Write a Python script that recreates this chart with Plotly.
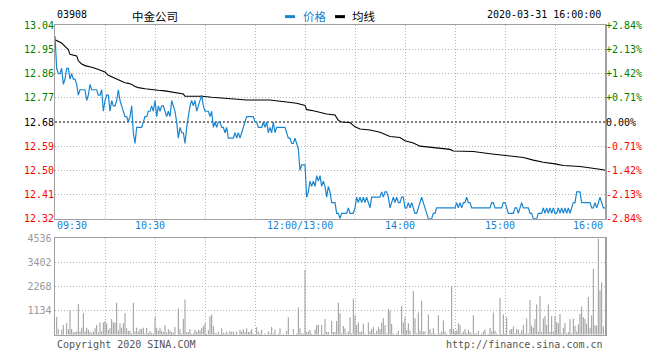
import plotly.graph_objects as go

# ---------------- data ----------------
stock_code = "03908"
stock_name = "中金公司"
timestamp = "2020-03-31 16:00:00"
prev_close = 12.68
series_names = ["价格", "均线"]

# minute-by-minute price, 09:30 .. 12:00 then 13:00 .. 16:00 (331 points)
price = [
    13.00, 12.88, 12.86, 12.86, 12.88, 12.82, 12.84, 12.88, 12.88, 12.84,  # 0
    12.86, 12.84, 12.84, 12.82, 12.78, 12.80, 12.80, 12.80, 12.80, 12.76,  # 10
    12.78, 12.82, 12.80, 12.80, 12.80, 12.80, 12.78, 12.78, 12.80, 12.72,  # 20
    12.76, 12.78, 12.78, 12.72, 12.76, 12.74, 12.74, 12.76, 12.80, 12.76,  # 30
    12.74, 12.72, 12.70, 12.70, 12.68, 12.70, 12.74, 12.64, 12.60, 12.66,  # 40
    12.66, 12.66, 12.66, 12.68, 12.70, 12.70, 12.72, 12.72, 12.74, 12.72,  # 50
    12.76, 12.70, 12.74, 12.72, 12.74, 12.74, 12.72, 12.70, 12.72, 12.70,  # 60
    12.76, 12.74, 12.72, 12.68, 12.62, 12.66, 12.64, 12.64, 12.60, 12.66,  # 70
    12.70, 12.74, 12.76, 12.74, 12.76, 12.72, 12.74, 12.76, 12.78, 12.74,  # 80
    12.72, 12.72, 12.72, 12.70, 12.72, 12.66, 12.68, 12.66, 12.68, 12.68,  # 90
    12.66, 12.66, 12.64, 12.66, 12.62, 12.62, 12.62, 12.62, 12.64, 12.62,  # 100
    12.64, 12.62, 12.64, 12.66, 12.68, 12.70, 12.70, 12.70, 12.70, 12.70,  # 110
    12.68, 12.68, 12.66, 12.66, 12.66, 12.68, 12.66, 12.68, 12.64, 12.66,  # 120
    12.64, 12.68, 12.64, 12.66, 12.66, 12.66, 12.66, 12.66, 12.66, 12.64,  # 130
    12.62, 12.62, 12.60, 12.60, 12.62, 12.60, 12.58, 12.50, 12.52, 12.52,  # 140
    12.52, 12.40, 12.42, 12.46, 12.44, 12.46, 12.44, 12.48, 12.46, 12.48,  # 150
    12.44, 12.46, 12.44, 12.40, 12.44, 12.42, 12.38, 12.38, 12.38, 12.34,  # 160
    12.34, 12.32, 12.34, 12.34, 12.34, 12.34, 12.36, 12.34, 12.34, 12.34,  # 170
    12.36, 12.40, 12.38, 12.40, 12.38, 12.40, 12.38, 12.40, 12.38, 12.36,  # 180
    12.40, 12.40, 12.40, 12.40, 12.40, 12.40, 12.42, 12.40, 12.42, 12.42,  # 190
    12.40, 12.36, 12.38, 12.40, 12.38, 12.40, 12.38, 12.38, 12.40, 12.40,  # 200
    12.36, 12.36, 12.38, 12.36, 12.38, 12.36, 12.34, 12.34, 12.36, 12.38,  # 210
    12.40, 12.38, 12.36, 12.34, 12.32, 12.32, 12.32, 12.34, 12.34, 12.36,  # 220
    12.36, 12.36, 12.36, 12.36, 12.36, 12.36, 12.36, 12.36, 12.36, 12.36,  # 230
    12.36, 12.38, 12.36, 12.38, 12.36, 12.38, 12.38, 12.40, 12.38, 12.38,  # 240
    12.36, 12.36, 12.36, 12.36, 12.36, 12.36, 12.36, 12.36, 12.36, 12.36,  # 250
    12.36, 12.36, 12.38, 12.38, 12.36, 12.36, 12.36, 12.36, 12.36, 12.38,  # 260
    12.38, 12.36, 12.34, 12.34, 12.34, 12.34, 12.36, 12.36, 12.34, 12.36,  # 270
    12.38, 12.36, 12.36, 12.36, 12.36, 12.34, 12.34, 12.32, 12.32, 12.32,  # 280
    12.34, 12.34, 12.34, 12.36, 12.34, 12.36, 12.34, 12.36, 12.34, 12.36,  # 290
    12.34, 12.34, 12.36, 12.34, 12.36, 12.34, 12.36, 12.34, 12.36, 12.34,  # 300
    12.36, 12.38, 12.38, 12.42, 12.42, 12.42, 12.38, 12.38, 12.38, 12.38,  # 310
    12.38, 12.38, 12.36, 12.36, 12.38, 12.36, 12.38, 12.40, 12.38, 12.36, 12.36,  # 320
]

# average-price line, read at its turning points (minute index, price)
avg_minute = [0, 2, 4, 6, 8, 9, 11, 13, 14, 16, 18, 20, 22, 24, 26, 28, 30, 32, 34, 36,
              38, 40, 42, 44, 46, 48, 50, 54, 58, 62, 66, 70, 74, 77, 78, 88, 94, 99, 107, 115,
              129, 139, 145, 150, 151, 155, 159, 163, 168, 170, 172, 177, 180, 183, 189, 195, 201, 207, 210, 215,
              219, 225, 230, 231, 237, 239, 251, 261, 271, 281, 287, 293, 300, 305, 315, 321, 325, 329, 330]
avg_price = [12.986, 12.980, 12.974, 12.962, 12.950, 12.932, 12.928, 12.926, 12.908, 12.896,
             12.890, 12.888, 12.884, 12.880, 12.876, 12.872, 12.866, 12.854, 12.848, 12.842,
             12.836, 12.832, 12.826, 12.824, 12.820, 12.812, 12.808, 12.804, 12.800, 12.798,
             12.796, 12.792, 12.788, 12.784, 12.776, 12.776, 12.772, 12.770, 12.766, 12.762,
             12.762, 12.754, 12.750, 12.742, 12.726, 12.722, 12.716, 12.710, 12.706, 12.686,
             12.680, 12.678, 12.662, 12.654, 12.650, 12.642, 12.626, 12.622, 12.610, 12.602,
             12.590, 12.586, 12.584, 12.582, 12.578, 12.572, 12.570, 12.562, 12.554, 12.548,
             12.538, 12.530, 12.524, 12.518, 12.514, 12.510, 12.506, 12.502, 12.500]

# minute volume (331 bars)
volume = [
    0, 830, 260, 0, 230, 450, 0, 530, 260, 1130,
    270, 110, 120, 150, 1440, 150, 330, 1000, 150, 330,
    230, 120, 80, 150, 300, 450, 100, 570, 150, 570,
    640, 540, 230, 300, 730, 570, 570, 1500, 200, 540,
    330, 540, 1000, 300, 180, 180, 60, 1500, 150, 330,
    150, 270, 270, 320, 60, 320, 90, 180, 80, 60,
    820, 320, 180, 330, 180, 120, 450, 100, 260, 180,
    120, 90, 360, 0, 1230, 260, 60, 730, 1650, 100,
    120, 270, 45, 60, 230, 120, 230, 180, 300, 410,
    530, 30, 210, 860, 950, 410, 90, 60, 150, 30,
    300, 90, 60, 150, 60, 180, 120, 150, 60, 150,
    0, 230, 150, 260, 120, 300, 120, 150, 260, 60,
    0, 350, 150, 60, 230, 0, 60, 0, 150, 60,
    360, 60, 230, 0, 60, 300, 0, 60, 0, 180,
    820, 0, 0, 270, 0, 60, 1270, 300, 60, 60,
    3040, 120, 150, 230, 60, 0, 230, 450, 450, 0,
    450, 45, 730, 120, 120, 0, 640, 120, 120, 640,
    1500, 1000, 60, 410, 290, 60, 150, 820, 60, 1680,
    910, 450, 570, 120, 150, 510, 60, 0, 570, 150,
    270, 360, 60, 180, 360, 270, 570, 770, 450, 60,
    1220, 1120, 500, 60, 0, 60, 180, 0, 1360, 570,
    820, 230, 540, 180, 0, 2040, 770, 60, 1040, 180,
    1590, 150, 150, 0, 950, 260, 60, 300, 60, 0,
    910, 60, 150, 670, 150, 60, 0, 270, 2270, 270,
    150, 200, 540, 450, 60, 150, 270, 60, 230, 120,
    60, 910, 60, 60, 180, 0, 60, 150, 240, 0,
    30, 320, 150, 1040, 180, 60, 0, 1720, 30, 950,
    60, 820, 0, 230, 270, 380, 60, 270, 230, 60,
    210, 450, 60, 760, 60, 1630, 420, 330, 730, 1410,
    150, 1810, 120, 760, 880, 450, 1420, 120, 880, 150,
    880, 600, 540, 970, 60, 330, 540, 60, 120, 730,
    60, 760, 420, 150, 480, 970, 1320, 820, 730, 510,
    1770, 320, 910, 3080, 450, 420, 4500, 2090, 2450, 380,
    0,
]
minutes = list(range(len(price)))

# axes / tick labels
price_ticks = [12.32, 12.41, 12.50, 12.59, 12.68, 12.77, 12.86, 12.95, 13.04]
price_tick_labels = ["12.32", "12.41", "12.50", "12.59", "12.68", "12.77", "12.86", "12.95", "13.04"]
pct_tick_labels = ["-2.84%", "-2.13%", "-1.42%", "-0.71%", "0.00%", "+0.71%", "+1.42%", "+2.13%", "+2.84%"]
vol_ticks = [1134, 2268, 3402, 4536]
vol_tick_labels = ["1134", "2268", "3402", "4536"]
time_ticks = [0, 60, 150, 210, 270, 330]
time_tick_labels = ["09:30", "10:30", "12:00/13:00", "14:00", "15:00", "16:00"]
grid_minutes = [30, 60, 90, 120, 150, 180, 210, 240, 270, 300]

# ---------------- style ----------------
W, H = 660, 360
PL, PR = 55, 605           # plot left / right (px)
P_TOP, P_BOT = 20, 220     # price panel
V_TOP, V_BOT = 240, 340    # volume panel
MONO = "DejaVu Sans Mono"
CJK = "Noto Sans CJK SC"
BLUE_LINE = "#1a86d0"
BLUE_TXT = "#1a7fcc"
GREEN = "#008000"
RED = "#ff0000"
BLACK = "#000000"
GRID = "#b4b4b4"
FRAME = "#a0a0a0"
GRIDDASH = "1px,2px"


def px_x(x):
    return x / W


def px_y(y):
    return 1 - y / H


def tick_color(p):
    if p > prev_close + 1e-9:
        return GREEN
    if p < prev_close - 1e-9:
        return RED
    return BLACK


# split tick labels by colour group (above / at / below previous close)
groups = {}
for p, t, pc in zip(price_ticks, price_tick_labels, pct_tick_labels):
    g = groups.setdefault(tick_color(p), {"vals": [], "left": [], "right": []})
    g["vals"].append(p)
    g["left"].append(t)
    g["right"].append(pc)

fig = go.Figure()

fig.add_trace(go.Bar(
    x=minutes, y=volume, xaxis="x2", yaxis="y3",
    marker=dict(color="#999999", line=dict(width=0)), width=0.6,
    showlegend=False, hoverinfo="skip",
))
fig.add_trace(go.Scatter(
    x=avg_minute, y=avg_price, mode="lines", name=series_names[1],
    line=dict(color=BLACK, width=1.1), xaxis="x", yaxis="y",
    showlegend=False, hoverinfo="skip",
))
fig.add_trace(go.Scatter(
    x=minutes, y=price, mode="lines", name=series_names[0],
    line=dict(color=BLUE_LINE, width=1.2), xaxis="x", yaxis="y",
    showlegend=False, hoverinfo="skip",
))

xdom = [px_x(PL), px_x(PR)]
prange = [price_ticks[0], price_ticks[-1]]
axis_common = dict(showline=True, mirror=True, linecolor=FRAME, linewidth=1.5,
                   zeroline=False, fixedrange=True)

layout = dict(
    width=W, height=H, margin=dict(l=0, r=0, t=0, b=0),
    paper_bgcolor="white", plot_bgcolor="white",
    showlegend=False, hovermode=False,
    font=dict(family=MONO, size=10, color=BLACK),
    xaxis=dict(domain=xdom, range=[0, 330], anchor="y", tickvals=grid_minutes,
               showticklabels=False, ticks="", showgrid=True, gridcolor=GRID,
               griddash=GRIDDASH, gridwidth=1, **axis_common),
    yaxis=dict(domain=[px_y(P_BOT), px_y(P_TOP)], range=prange,
               anchor="x", tickvals=price_ticks, showticklabels=False, ticks="",
               showgrid=True, gridcolor=GRID, griddash=GRIDDASH, gridwidth=1,
               **axis_common),
    xaxis2=dict(domain=xdom, range=[0, 330], anchor="y3", tickvals=grid_minutes,
                showticklabels=False, ticks="", showgrid=True, gridcolor=GRID,
                griddash=GRIDDASH, gridwidth=1, **axis_common),
    yaxis3=dict(domain=[px_y(V_BOT), px_y(V_TOP)], range=[0, vol_ticks[-1]], anchor="x2",
                tickvals=vol_ticks, ticktext=vol_tick_labels, ticks="",
                showgrid=True, gridcolor=GRID, griddash=GRIDDASH, gridwidth=1,
                tickfont=dict(family=MONO, size=10, color="#999999"), **axis_common),
)

# overlay label-only axes: left (price) and right (percent), one per colour
ax_n = 4
for color, g in groups.items():
    for side, key in (("left", "left"), ("right", "right")):
        layout[f"yaxis{ax_n}"] = dict(
            overlaying="y", side=side, anchor="x", range=prange,
            tickvals=g["vals"], ticktext=g[key], ticks="", showgrid=False,
            zeroline=False, showline=False, fixedrange=True,
            tickfont=dict(family=MONO, size=10, color=color))
        # invisible carrier trace so the axis is drawn
        fig.add_trace(go.Scatter(x=[0], y=[g["vals"][0]], xaxis="x", yaxis=f"y{ax_n}",
                                 mode="markers", marker=dict(opacity=0),
                                 showlegend=False, hoverinfo="skip"))
        ax_n += 1

fig.update_layout(**layout)

# previous-close reference line
fig.add_shape(type="line", xref="x", yref="y", x0=0, x1=330, y0=prev_close, y1=prev_close,
              line=dict(color="white", width=1.5), layer="between")
fig.add_shape(type="line", xref="x", yref="y", x0=0, x1=330, y0=prev_close, y1=prev_close,
              line=dict(color=BLACK, width=1, dash="2px,2px"), layer="between")

# time axis labels
for i, (m, lab) in enumerate(zip(time_ticks, time_tick_labels)):
    if i == 0:
        anchor, shift = "left", 0
    elif i == len(time_ticks) - 1:
        anchor, shift = "right", 0
    else:
        anchor, shift = "center", -5
    fig.add_annotation(x=m, xref="x", y=px_y(227), yref="paper", text=lab,
                       xanchor=anchor, yanchor="middle", xshift=shift, showarrow=False,
                       font=dict(family=MONO, size=10, color=BLUE_TXT))

# header
fig.add_annotation(x=px_x(55), y=px_y(9), xref="paper", yref="paper", text=stock_code,
                   xanchor="left", yanchor="middle", showarrow=False,
                   font=dict(family=MONO, size=10, color=BLACK))
fig.add_annotation(x=px_x(130), y=px_y(10), xref="paper", yref="paper", text=stock_name,
                   xanchor="left", yanchor="middle", showarrow=False,
                   font=dict(family=CJK, size=11.5, color=BLACK))
fig.add_shape(type="line", xref="paper", yref="paper", x0=px_x(285), x1=px_x(295),
              y0=px_y(11), y1=px_y(11), line=dict(color=BLUE_LINE, width=3))
fig.add_annotation(x=px_x(301), y=px_y(10), xref="paper", yref="paper", text=series_names[0],
                   xanchor="left", yanchor="middle", showarrow=False,
                   font=dict(family=CJK, size=11.5, color=BLUE_TXT))
fig.add_shape(type="line", xref="paper", yref="paper", x0=px_x(335), x1=px_x(345),
              y0=px_y(11), y1=px_y(11), line=dict(color=BLACK, width=3))
fig.add_annotation(x=px_x(350), y=px_y(10), xref="paper", yref="paper", text=series_names[1],
                   xanchor="left", yanchor="middle", showarrow=False,
                   font=dict(family=CJK, size=11.5, color=BLACK))
fig.add_annotation(x=px_x(603), y=px_y(9), xref="paper", yref="paper", text=timestamp,
                   xanchor="right", yanchor="middle", showarrow=False,
                   font=dict(family=MONO, size=10, color=BLACK))

# footer
fig.add_annotation(x=px_x(55), y=px_y(350), xref="paper", yref="paper",
                   text="Copyright 2020 SINA.COM", xanchor="left", yanchor="middle",
                   showarrow=False, font=dict(family=MONO, size=10, color="#555555"))
fig.add_annotation(x=px_x(605), y=px_y(350), xref="paper", yref="paper",
                   text="http://finance.sina.com.cn", xanchor="right", yanchor="middle",
                   showarrow=False, font=dict(family=MONO, size=10, color="#555555"))

fig.write_html("out.html", config={"displayModeBar": False, "staticPlot": True},
               post_script="document.body.style.margin='0';")
